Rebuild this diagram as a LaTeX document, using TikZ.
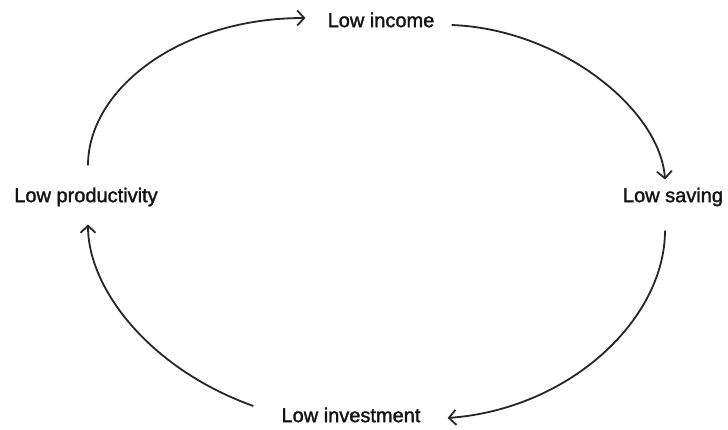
\documentclass[tikz,border=0pt]{standalone}
\usepackage{fontspec}
\setmainfont{Liberation Sans}
\newfontfamily\lblfont[FakeBold=1.6]{Liberation Sans}
\usetikzlibrary{arrows.meta,calc}
\begin{document}
\begin{tikzpicture}[x=1pt,y=1pt,
  lbl/.style={font=\lblfont\fontsize{20}{24}\selectfont, text=black!92, inner sep=0pt},
  arr/.style={draw=black!85, line width=1.8pt, -{Straight Barb[length=7pt,width=15pt,line width=1.8pt]}}]
\useasboundingbox (0,0) rectangle (728,429);
\node[lbl] (income) at (381,409) {Low income};
\node[lbl] (saving) at (673,232) {Low saving};
\node[lbl] (prod) at (86,232) {Low productivity};
\node[lbl] (invest) at (351,14) {Low investment};
\draw[arr] ($(prod.north)+(2,22)$) .. controls (88,340) and (180,411) .. ($(income.west)+(-22,2)$);
\draw[arr] ($(income.east)+(17,-5)$) .. controls (560,400) and (660,320) .. ($(saving.north)+(-8,8)$);
\draw[arr] ($(saving.south)+(-8,-24)$) .. controls (665,110) and (570,20) .. ($(invest.east)+(27,-3)$);
\draw[arr] ($(invest.west)+(-28,9)$) .. controls (150,60) and (88,140) .. ($(prod.south)+(2,-18)$);
\end{tikzpicture}
\end{document}
